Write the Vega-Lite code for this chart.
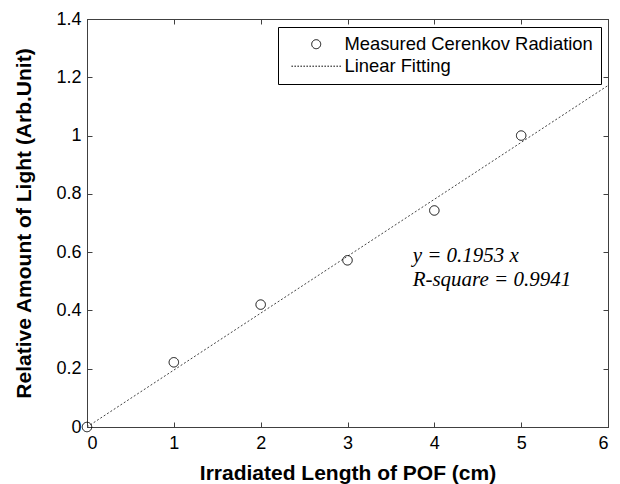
{
  "$schema": "https://vega.github.io/schema/vega-lite/v6.json",
  "width": 521,
  "height": 408,
  "autosize": "none",
  "padding": {"left": 87, "top": 19, "right": 12, "bottom": 57},
  "background": "white",
  "config": {
    "view": {"stroke": "#404040", "strokeWidth": 1},
    "font": "Liberation Sans"
  },
  "datasets": {
    "measured": [
      {"length": 0, "light": 0, "series": "Measured Cerenkov Radiation"},
      {"length": 1, "light": 0.222, "series": "Measured Cerenkov Radiation"},
      {"length": 2, "light": 0.42, "series": "Measured Cerenkov Radiation"},
      {"length": 3, "light": 0.572, "series": "Measured Cerenkov Radiation"},
      {"length": 4, "light": 0.743, "series": "Measured Cerenkov Radiation"},
      {"length": 5, "light": 1.0, "series": "Measured Cerenkov Radiation"}
    ],
    "fit": [
      {"length": 0, "light": 0},
      {"length": 6, "light": 1.1718}
    ],
    "note": [
      {"length": 3.75, "light": 0.588, "text": "y = 0.1953 x"},
      {"length": 3.75, "light": 0.506, "text": "R-square = 0.9941"}
    ]
  },
  "layer": [
    {
      "data": {"name": "fit"},
      "mark": {"type": "line", "stroke": "#444444", "strokeWidth": 1, "strokeDash": [2, 2]},
      "encoding": {
        "x": {
          "field": "length", "type": "quantitative",
          "scale": {"domain": [0, 6], "nice": false},
          "axis": {
            "orient": "bottom", "values": [0, 1, 2, 3, 4, 5, 6], "format": "d",
            "grid": false, "tickSize": -5, "tickColor": "#404040", "domainColor": "#404040",
            "labelFont": "Liberation Sans", "labelFontSize": 18, "labelColor": "black", "labelPadding": 12,
            "title": "Irradiated Length of POF (cm)", "titleFont": "Liberation Sans",
            "titleFontSize": 21, "titleFontWeight": "bold", "titleColor": "black", "titlePadding": 10
          }
        },
        "y": {
          "field": "light", "type": "quantitative",
          "scale": {"domain": [0, 1.4], "nice": false},
          "axis": {
            "orient": "left", "values": [0, 0.2, 0.4, 0.6, 0.8, 1, 1.2, 1.4], "format": "~g",
            "grid": false, "tickSize": -5, "tickColor": "#404040", "domainColor": "#404040",
            "labelFont": "Liberation Sans", "labelFontSize": 18, "labelColor": "black", "labelPadding": 11,
            "title": "Relative Amount of Light (Arb.Unit)", "titleFont": "Liberation Sans",
            "titleFontSize": 21, "titleFontWeight": "bold", "titleColor": "black", "titlePadding": 21
          }
        }
      }
    },
    {
      "data": {"name": "measured"},
      "mark": {"type": "point", "filled": false, "stroke": "black", "strokeWidth": 1, "size": 90, "opacity": 1},
      "encoding": {
        "x": {
          "field": "length", "type": "quantitative",
          "scale": {"domain": [0, 6], "nice": false},
          "axis": {
            "orient": "top", "values": [0, 1, 2, 3, 4, 5, 6], "labels": false, "title": null,
            "grid": false, "tickSize": -5, "tickColor": "#404040", "domainColor": "#404040"
          }
        },
        "y": {
          "field": "light", "type": "quantitative",
          "scale": {"domain": [0, 1.4], "nice": false},
          "axis": {
            "orient": "right", "values": [0, 0.2, 0.4, 0.6, 0.8, 1, 1.2, 1.4], "labels": false, "title": null,
            "grid": false, "tickSize": -5, "tickColor": "#404040", "domainColor": "#404040"
          }
        },
        "shape": {
          "field": "series", "type": "nominal",
          "scale": {"domain": ["Measured Cerenkov Radiation", "Linear Fitting"], "range": ["circle", "M-5.5,0H5.5"]},
          "legend": {
            "orient": "none", "legendX": 191, "legendY": 8, "title": null,
            "strokeColor": "black", "fillColor": "white", "padding": 8, "cornerRadius": 0,
            "labelFont": "Liberation Sans", "labelFontSize": 18.4, "labelColor": "black", "labelLimit": 400,
            "symbolSize": 81, "symbolStrokeColor": "black", "symbolStrokeWidth": 1, "symbolFillColor": "transparent",
            "symbolOffset": 21, "labelOffset": 19, "rowPadding": 3
          }
        },
        "strokeDash": {
          "field": "series", "type": "nominal",
          "scale": {"domain": ["Measured Cerenkov Radiation", "Linear Fitting"], "range": [[1, 0], [1.5, 1.5]]},
          "legend": {
            "orient": "none", "legendX": 191, "legendY": 8, "title": null,
            "strokeColor": "black", "fillColor": "white", "padding": 8, "cornerRadius": 0,
            "labelFont": "Liberation Sans", "labelFontSize": 18.4, "labelColor": "black", "labelLimit": 400,
            "symbolSize": 81, "symbolStrokeColor": "black", "symbolStrokeWidth": 1, "symbolFillColor": "transparent",
            "symbolOffset": 21, "labelOffset": 19, "rowPadding": 3
          }
        }
      }
    },
    {
      "data": {"name": "note"},
      "mark": {"type": "text", "font": "Liberation Serif", "fontStyle": "italic", "fontSize": 21, "align": "left", "baseline": "middle", "color": "black"},
      "encoding": {
        "x": {"field": "length", "type": "quantitative", "scale": {"domain": [0, 6], "nice": false}, "axis": null},
        "y": {"field": "light", "type": "quantitative", "scale": {"domain": [0, 1.4], "nice": false}, "axis": null},
        "text": {"field": "text"}
      }
    }
  ],
  "resolve": {"axis": {"x": "independent", "y": "independent"}}
}
